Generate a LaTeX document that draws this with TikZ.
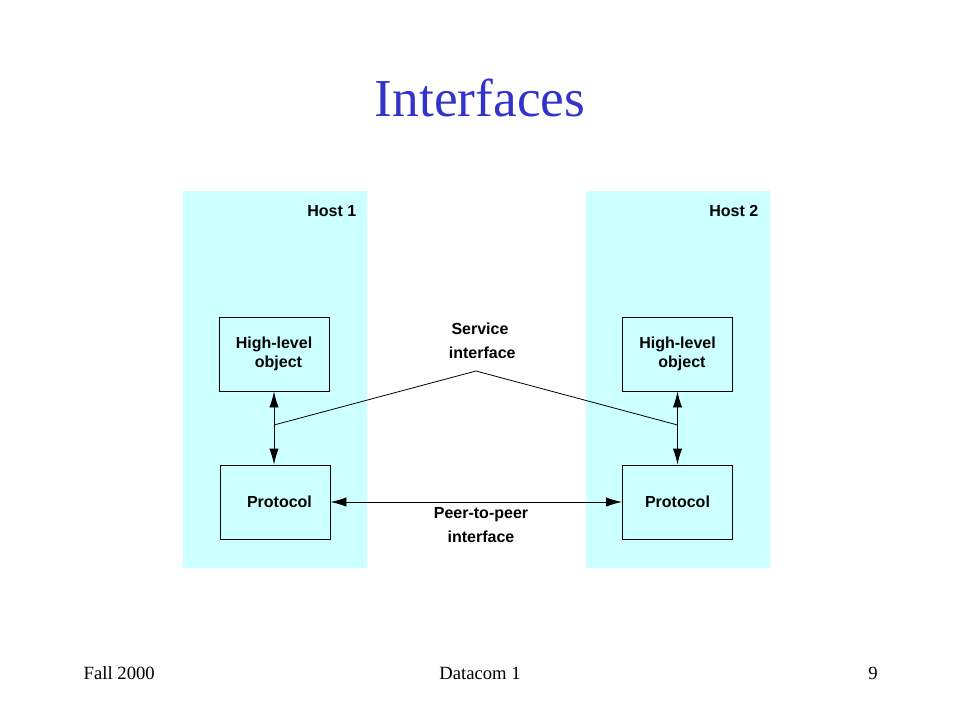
\documentclass[tikz,border=0pt]{standalone}
\usepackage{fontspec}
\setmainfont{Liberation Serif}
\setsansfont{Liberation Sans}
\usepackage{tikz}
\usetikzlibrary{positioning,calc,arrows.meta}
\definecolor{hostcyan}{RGB}{204,255,255}
\definecolor{titleblue}{RGB}{51,51,204}

\begin{document}
\begin{tikzpicture}[x=0.75pt, y=-0.75pt,
host/.style={rectangle, fill=hostcyan, minimum width=138pt, minimum height=283pt, inner sep=0pt},
layer/.style={rectangle, draw=black, line width=0.7pt, minimum width=82.5pt, minimum height=55.5pt, align=center, font=\sffamily\bfseries\fontsize{12}{14}\selectfont},
tag/.style={font=\sffamily\bfseries\fontsize{12}{18}\selectfont, align=center},
link/.style={line width=0.7pt, {Latex[length=12pt,width=7pt]}-{Latex[length=12pt,width=7pt]}},
]
\useasboundingbox (0,0) rectangle (960,720);

\node[font=\fontsize{40}{44}\selectfont, text=titleblue] (title) at (480,98) {Interfaces};

\node[host] (host1) at (275,379.5) {};
\node[host] (host2) at (677.5,379.5) {};
\node[tag, anchor=east] (h1) at (361,211) {Host 1};
\node[tag, anchor=east] (h2) at (763,211) {Host 2};

\node[layer] (hl1) at (274,354) {High-level\\ \ \ object};
\node[layer] (pr1) at (275,502) {\ \ Protocol};
\node[layer] (hl2) at (677.5,354) {High-level\\ \ \ object};
\node[layer] (pr2) at (677.5,502) {Protocol};

\draw[link] (hl1.south) -- (pr1.north -| hl1.south);
\draw[link] (hl2.south) -- (pr2.north);
\draw[link] (pr1.east) -- (pr2.west);

% service interface
\coordinate (s1) at (274,425);
\coordinate (s2) at (677.5,425);
\coordinate (top) at (476,371);
\draw[line width=0.6pt] (s1) -- (top) -- (s2);

\node[tag] (svc) at (480,341) {Service\\ \ interface};
\node[tag] (p2p) at (481,525) {Peer-to-peer\\interface};

\node[font=\fontsize{14}{16}\selectfont, anchor=west] (ft1) at (79,673) {Fall 2000};
\node[font=\fontsize{14}{16}\selectfont] (ft2) at (480,673) {Datacom 1};
\node[font=\fontsize{14}{16}\selectfont] (ft3) at (873,673) {9};
\end{tikzpicture}
\end{document}
